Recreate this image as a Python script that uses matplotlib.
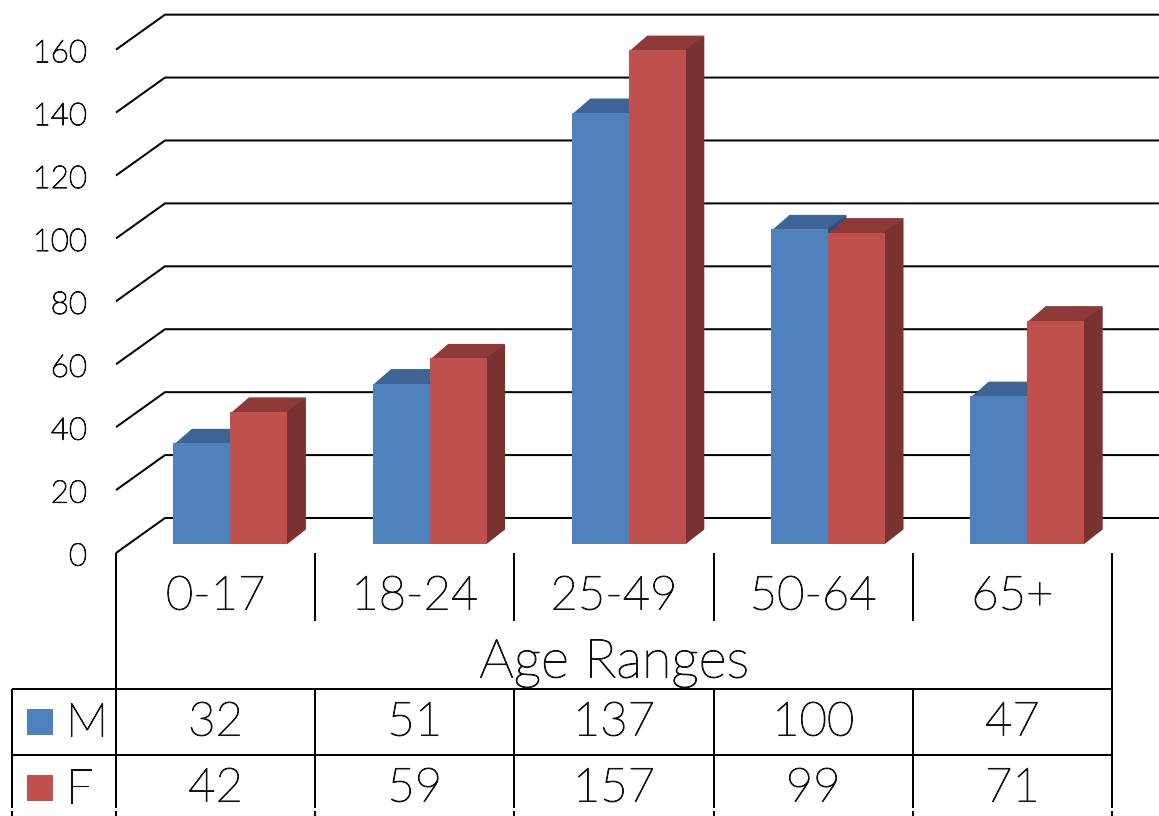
import matplotlib
matplotlib.use("Agg")
import matplotlib.pyplot as plt
import matplotlib.patheffects as pe

plt.rcParams["font.family"] = ["Lato", "DejaVu Sans"]
plt.rcParams["font.weight"] = "light"

ages = ["0-17", "18-24", "25-49", "50-64", "65+"]
male = [32, 51, 137, 100, 47]
female = [42, 59, 157, 99, 71]
y_ticks = [0, 20, 40, 60, 80, 100, 120, 140, 160]

W, H = 1159, 816
GROUP = 199.2   # px per category
UNIT = 3.146    # px per count
FLOOR = 544     # pixel row of the bar bases


def py(v):
    # value -> pixel row, used for the fake 3d offsets and the table
    return (FLOOR - v) / UNIT


def px(x):
    return (x - 116) / GROUP


fig = plt.figure(figsize=(W / 100, H / 100), dpi=100)
ax = fig.add_axes([0, 0, 1, 1])
ax.set_xlim(px(0), px(W))
ax.set_ylim(py(H), py(0))
ax.axis("off")

line = dict(color="black", lw=1.45, solid_capstyle="butt", zorder=1)
# light Lato is too thin on its own, thicken it a little
txt = dict(color="#111111", path_effects=[pe.withStroke(linewidth=0.75, foreground="#111111")])

# back wall lines and the slanted floor/side lines
for t in y_ticks:
    back = py(518 - t * UNIT)
    front = py(553 - t * UNIT)
    ax.plot([px(116), px(165), px(W)], [front, back, back], **line)
    ax.text(px(87), py(557 - t * UNIT), str(t), ha="right", va="center", fontsize=22.5, **txt)

# bars
bar_w = 57 / GROUP
off = 57.4 / GROUP
dx = 18.5 / GROUP
dy = 14.5 / UNIT
seam = 1 / GROUP   # side/top run under the front face so no white seam shows
series = [
    (male, 0, "#4F81BD", "#3D6495", "#2F4F76"),
    (female, 1, "#C0504D", "#8E3A38", "#7A3230"),
]
for vals, s, face, top, side in series:
    for i, v in enumerate(vals):
        x0 = i + off + s * bar_w
        x1 = x0 + bar_w
        ax.fill([x0, x0 + dx, x1 + dx, x1], [v - 0.5, v + dy, v + dy, v - 0.5], color=top, lw=0, zorder=2 + s)
        ax.fill([x1 - seam, x1, x1 + dx, x1 + dx, x1 - seam], [0, 0, dy, v + dy, v], color=side, lw=0, zorder=2 + s)
        ax.bar(x0, v, width=bar_w, align="edge", color=face, lw=0, zorder=2.5 + s)

# data table frame, the verticals have a small break near the bottom edge
edges = [i for i in range(len(ages) + 1)] + [px(12)]
for e in edges:
    if e in (0, len(ages)):
        ax.plot([e, e], [py(553), py(808)], **line)
    elif e == px(12):
        ax.plot([e, e], [py(689), py(808)], **line)
    else:
        ax.plot([e, e], [py(553), py(621)], **line)
        ax.plot([e, e], [py(689), py(808)], **line)
    ax.plot([e, e], [py(811), py(H)], **line)
ax.plot([px(12), 5], [py(689), py(689)], **line)
ax.plot([px(12), 5], [py(755), py(755)], **line)

# table text
big = 34
for i, a in enumerate(ages):
    ax.text(i + 0.5, py(597), a, ha="center", va="center", fontsize=big, **txt)
    ax.text(i + 0.5, py(723), str(male[i]), ha="center", va="center", fontsize=big, **txt)
    ax.text(i + 0.5, py(789), str(female[i]), ha="center", va="center", fontsize=big, **txt)
ax.text(2.5, py(663), "Age Ranges", ha="center", va="center", fontsize=39, **txt)

# legend keys in the table
for label, color, y0 in [("M", "#4F81BD", 709), ("F", "#C0504D", 775)]:
    ax.fill([px(27), px(53), px(53), px(27)], [py(y0), py(y0), py(y0 + 26), py(y0 + 26)], color=color, lw=0)
    ax.text(px(66), py(y0 + 15), label, ha="left", va="center", fontsize=big, **txt)

fig.savefig("out.png", dpi=100)
